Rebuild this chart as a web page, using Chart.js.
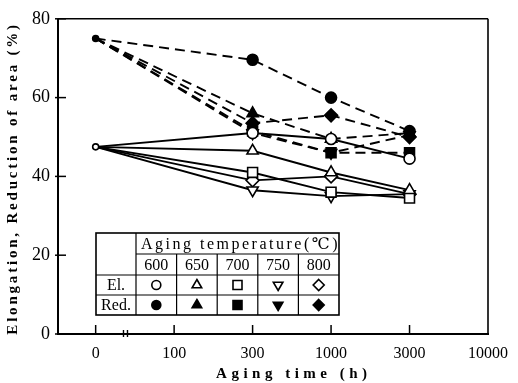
<!DOCTYPE html>
<html>
<head>
<meta charset="utf-8">
<script src="https://cdn.jsdelivr.net/npm/chart.js@4.4.0/dist/chart.umd.min.js"></script>
<style>
html, body { margin: 0; padding: 0; background: #fff; }
</style>
</head>
<body>
<canvas id="chart" width="518" height="383"></canvas>
<script>
// aging times of the measurements and the (evenly spaced) axis ticks, hours
var agingTimes = [0, 300, 1000, 3000];
var tickTimes = [0, 100, 300, 1000, 3000, 10000];
var yTicks = [0, 20, 40, 60, 80];
var temps = [600, 650, 700, 750, 800];

// elongation (%), one array per aging temperature
var el600 = [47.5, 51, 49.5, 44.5];
var el650 = [47.5, 46.5, 41, 36.5];
var el700 = [47.5, 41, 36, 34.5];
var el750 = [47.5, 36.5, 35, 35.5];
var el800 = [47.5, 39, 40, 35.5];

// reduction of area (%)
var red600 = [75, 69.6, 60, 51.5];
var red650 = [75, 56, 49.5, 51];
var red700 = [75, 51.5, 46, 46];
var red750 = [75, 51, 46, 50.5];
var red800 = [75, 53.5, 55.5, 50];

var elSeries = [el600, el650, el700, el750, el800];
var redSeries = [red600, red650, red700, red750, red800];

var styles = ['circle', 'triangle', 'rect', 'triangle', 'rectRot'];
var rotations = [0, 0, 0, 180, 0];
var sizes = [5.5, 6.5, 7, 6.5, 6.5];
var serif = '"Liberation Serif", "DejaVu Serif", serif';

function xPos(t) {
    return tickTimes.indexOf(t);
}

function makeSet(data, i, red) {
    return {
        label: (red ? 'Red. ' : 'El. ') + temps[i],
        data: agingTimes.map(function(t, k) { return {x: xPos(t), y: data[k]}; }),
        borderColor: '#000',
        borderWidth: 1.9,
        borderDash: red ? [10, 6] : [],
        pointStyle: styles[i],
        rotation: rotations[i],
        pointRadius: function(ctx) {
            if (ctx.dataIndex === 0) { return i === 0 ? 3 : 0; }
            return sizes[i];
        },
        pointBorderWidth: 1.6,
        pointBackgroundColor: red ? '#000' : '#fff',
        pointBorderColor: '#000',
        tension: 0
    };
}

function marker(ctx, style, rot, x, y, r, filled) {
    ctx.beginPath();
    if (style === 'circle') {
        ctx.arc(x, y, r, 0, 2 * Math.PI);
    } else if (style === 'triangle') {
        var s = rot ? -1 : 1;
        ctx.moveTo(x, y - s * r);
        ctx.lineTo(x + r * 0.87, y + s * r * 0.5);
        ctx.lineTo(x - r * 0.87, y + s * r * 0.5);
        ctx.closePath();
    } else if (style === 'rect') {
        var h = r * 0.75;
        ctx.rect(x - h, y - h, 2 * h, 2 * h);
    } else {
        ctx.moveTo(x, y - r);
        ctx.lineTo(x + r, y);
        ctx.lineTo(x, y + r);
        ctx.lineTo(x - r, y);
        ctx.closePath();
    }
    ctx.fillStyle = filled ? '#000' : '#fff';
    ctx.fill();
    ctx.stroke();
}

function line(ctx, x1, y1, x2, y2) {
    ctx.beginPath();
    ctx.moveTo(x1, y1);
    ctx.lineTo(x2, y2);
    ctx.stroke();
}

var frame = {
    id: 'frame',
    afterDraw: function(chart) {
        var ctx = chart.ctx;
        var a = chart.chartArea;
        var x = chart.scales.x;
        var y = chart.scales.y;
        ctx.save();
        ctx.strokeStyle = '#000';

        // box
        ctx.lineWidth = 2;
        line(ctx, a.left, a.top, a.left, a.bottom + 1);
        line(ctx, a.left, a.bottom, a.right + 1, a.bottom);
        ctx.lineWidth = 1.6;
        line(ctx, a.left, a.top, a.right, a.top);
        line(ctx, a.right, a.top, a.right, a.bottom);

        // inward ticks
        ctx.lineWidth = 1.5;
        yTicks.forEach(function(v) {
            var py = y.getPixelForValue(v);
            line(ctx, a.left - 3, py, a.left + 8, py);
        });
        tickTimes.forEach(function(t, i) {
            if (i === tickTimes.length - 1) { return; }
            var px = x.getPixelForValue(i);
            line(ctx, px, a.bottom, px, a.bottom - 9);
        });

        // axis break between 0 and 100
        var bx = x.getPixelForValue(0.38);
        ctx.lineWidth = 1.4;
        line(ctx, bx - 2, a.bottom - 4, bx - 2, a.bottom + 3);
        line(ctx, bx + 2, a.bottom - 4, bx + 2, a.bottom + 3);

        // axis titles
        ctx.fillStyle = '#000';
        ctx.font = 'bold 15px ' + serif;
        ctx.textAlign = 'center';
        ctx.textBaseline = 'middle';
        ctx.letterSpacing = '4.5px';
        ctx.fillText('Aging time (h)', (x.getPixelForValue(2) + x.getPixelForValue(3)) / 2 + 2, 374);
        ctx.save();
        ctx.translate(13, (a.top + a.bottom) / 2 + 2);
        ctx.rotate(-Math.PI / 2);
        ctx.letterSpacing = '2.8px';
        ctx.fillText('Elongation, Reduction of area (%)', 0, 0);
        ctx.restore();
        ctx.letterSpacing = '0px';

        // legend table
        var left = 96, first = 136, right = 339;
        var rows = [233, 254, 275, 295, 315];
        var cw = (right - first) / temps.length;
        ctx.fillStyle = '#fff';
        ctx.fillRect(left, rows[0], right - left, rows[4] - rows[0]);
        ctx.lineWidth = 1.6;
        ctx.strokeRect(left, rows[0], right - left, rows[4] - rows[0]);
        ctx.lineWidth = 1.2;
        line(ctx, first, rows[0], first, rows[4]);
        line(ctx, first, rows[1], right, rows[1]);
        line(ctx, left, rows[2], right, rows[2]);
        line(ctx, left, rows[3], right, rows[3]);
        for (var c = 1; c < temps.length; c++) {
            line(ctx, first + c * cw, rows[1], first + c * cw, rows[4]);
        }
        ctx.fillStyle = '#000';
        ctx.font = '16px ' + serif;
        ctx.letterSpacing = '2.5px';
        ctx.fillText('Aging temperature(\u2103)', (first + right) / 2 + 3, (rows[0] + rows[1]) / 2 + 1);
        ctx.letterSpacing = '0px';
        temps.forEach(function(t, i) {
            var cx = first + (i + 0.5) * cw;
            ctx.fillStyle = '#000';
            ctx.fillText(String(t), cx, (rows[1] + rows[2]) / 2 + 1);
            ctx.lineWidth = 1.6;
            marker(ctx, styles[i], rotations[i], cx, (rows[2] + rows[3]) / 2, sizes[i] - 1, false);
            marker(ctx, styles[i], rotations[i], cx, (rows[3] + rows[4]) / 2, sizes[i] - 1, true);
        });
        ctx.fillStyle = '#000';
        ctx.fillText('El.', (left + first) / 2, (rows[2] + rows[3]) / 2 + 1);
        ctx.fillText('Red.', (left + first) / 2, (rows[3] + rows[4]) / 2 + 1);
        ctx.restore();
    }
};

var datasets = [];
elSeries.forEach(function(d, i) { datasets.push(makeSet(d, i, false)); });
redSeries.forEach(function(d, i) { datasets.push(makeSet(d, i, true)); });

new Chart(document.getElementById('chart'), {
    type: 'line',
    data: {datasets: datasets},
    options: {
        responsive: false,
        animation: false,
        layout: {padding: {top: 16, right: 16, left: 0, bottom: 0}},
        plugins: {legend: {display: false}, tooltip: {enabled: false}},
        scales: {
            x: {
                type: 'linear',
                min: -0.48,
                max: 5,
                grid: {display: false, drawTicks: false},
                border: {display: false},
                ticks: {
                    color: '#000',
                    font: {family: serif, size: 16},
                    padding: 10,
                    autoSkip: false,
                    maxRotation: 0,
                    callback: function(v, i) { return String(tickTimes[i]); }
                },
                afterBuildTicks: function(s) {
                    s.ticks = tickTimes.map(function(t, i) { return {value: i}; });
                },
                afterFit: function(s) { s.height = 49; }
            },
            y: {
                min: 0,
                max: 80,
                grid: {display: false, drawTicks: false},
                border: {display: false},
                ticks: {
                    color: '#000',
                    font: {family: serif, size: 18},
                    padding: 8
                },
                afterBuildTicks: function(s) {
                    s.ticks = yTicks.map(function(v) { return {value: v}; });
                },
                afterFit: function(s) { s.width = 58; }
            }
        }
    },
    plugins: [frame]
});
</script>
</body>
</html>
